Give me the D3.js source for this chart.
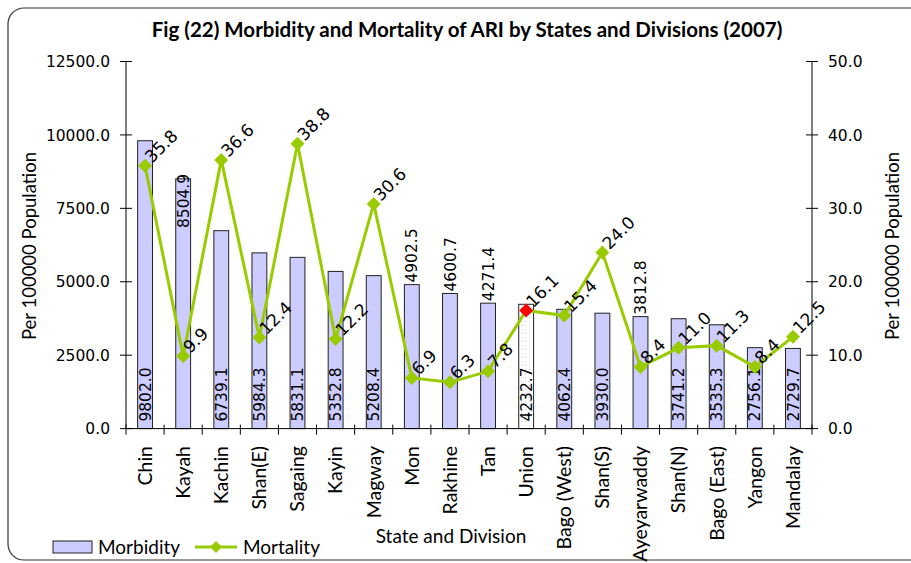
<!DOCTYPE html>
<html><head><meta charset="utf-8">
<script src="https://cdn.jsdelivr.net/npm/d3@7"></script>
<style>body{margin:0;background:#fff}svg{display:block}</style>
</head><body><svg id="c" width="911" height="563"></svg>
<script>
const categories = ["Chin","Kayah","Kachin","Shan(E)","Sagaing","Kayin","Magway","Mon","Rakhine","Tan","Union","Bago (West)","Shan(S)","Ayeyarwaddy","Shan(N)","Bago (East)","Yangon","Mandalay"];
const morbidity = [9802.0,8504.9,6739.1,5984.3,5831.1,5352.8,5208.4,4902.5,4600.7,4271.4,4232.7,4062.4,3930.0,3812.8,3741.2,3535.3,2756.1,2729.7];
const mortality = [35.8,9.9,36.6,12.4,38.8,12.2,30.6,6.9,6.3,7.8,16.1,15.4,24.0,8.4,11.0,11.3,8.4,12.5];
const barLabelPlace = ["base","in","base","base","base","base","base","out","out","out","base","base","base","out","base","base","base","base"];
const leftTicks = [0,2500,5000,7500,10000,12500];
const rightTicks = [0,10,20,30,40,50];
const highlight = "Union";

const svg = d3.select("#c");
const L = 126, R = 812, T = 61.5, B = 428.6;
const calibri = "Lato, 'Open Sans', sans-serif";
const tahoma = "'DejaVu Sans', Verdana, sans-serif";

// outer border
svg.append("rect").attr("x",8).attr("y",8).attr("width",940).attr("height",552)
  .attr("rx",16).attr("fill","none").attr("stroke","#333").attr("stroke-width",1.2);

const defs = svg.append("defs");
const pat = defs.append("pattern").attr("id","dots").attr("width",4).attr("height",4).attr("patternUnits","userSpaceOnUse");
pat.append("rect").attr("width",4).attr("height",4).attr("fill","#fff");
pat.append("rect").attr("x",1).attr("y",1).attr("width",1).attr("height",1).attr("fill","#CCCCFF");

const x = d3.scaleBand().domain(categories).range([L,R]).paddingInner(0.61).paddingOuter(0.305);
const xb = d3.scaleBand().domain(categories).range([L,R]);
const yL = d3.scaleLinear().domain([0,12500]).range([B,T]);
const yR = d3.scaleLinear().domain([0,50]).range([B,T]);

// title
svg.append("text").attr("x",467).attr("y",37).attr("text-anchor","middle")
  .attr("font-family",calibri).attr("font-weight","bold").attr("font-size",20.5)
  .text("Fig (22) Morbidity and Mortality of ARI by States and Divisions (2007)");

// bars
const data = categories.map((c,i)=>({c, m:morbidity[i], d:mortality[i], p:barLabelPlace[i]}));
svg.append("g").selectAll("rect").data(data).join("rect")
  .attr("x",d=>x(d.c)).attr("width",x.bandwidth())
  .attr("y",d=>yL(d.m)).attr("height",d=>B-yL(d.m))
  .attr("fill",d=>d.c===highlight?"url(#dots)":"#CCCCFF")
  .attr("stroke","#222").attr("stroke-width",1);

// axes
const gAx = svg.append("g").attr("stroke","#000").attr("stroke-width",1);
gAx.append("line").attr("x1",L).attr("x2",L).attr("y1",T).attr("y2",B);
gAx.append("line").attr("x1",R).attr("x2",R).attr("y1",T).attr("y2",B);
gAx.append("line").attr("x1",L).attr("x2",R).attr("y1",B).attr("y2",B);
leftTicks.forEach(t=>gAx.append("line").attr("x1",L-6).attr("x2",L+6).attr("y1",yL(t)).attr("y2",yL(t)));
rightTicks.forEach(t=>gAx.append("line").attr("x1",R-6).attr("x2",R+6).attr("y1",yR(t)).attr("y2",yR(t)));
categories.forEach(c=>gAx.append("line").attr("x1",xb(c)).attr("x2",xb(c)).attr("y1",B-4).attr("y2",B+6));
gAx.append("line").attr("x1",R).attr("x2",R).attr("y1",B-4).attr("y2",B+6);

svg.append("g").selectAll("text").data(leftTicks).join("text")
  .attr("x",L-16).attr("y",d=>yL(d)).attr("dy","0.36em").attr("text-anchor","end")
  .attr("font-family",tahoma).attr("font-size",15.5).text(d=>d.toFixed(1));
svg.append("g").selectAll("text").data(rightTicks).join("text")
  .attr("x",R+16).attr("y",d=>yR(d)).attr("dy","0.36em").attr("text-anchor","start")
  .attr("font-family",tahoma).attr("font-size",15.5).text(d=>d.toFixed(1));

// category labels
svg.append("g").selectAll("text").data(categories).join("text")
  .attr("transform",d=>`translate(${xb(d)+xb.bandwidth()/2},446) rotate(-90)`)
  .attr("dy","0.35em").attr("text-anchor","end")
  .attr("font-family",calibri).attr("font-size",19.5).text(d=>d);

// axis titles
svg.append("text").attr("x",451).attr("y",543).attr("text-anchor","middle")
  .attr("font-family",calibri).attr("font-size",19).text("State and Division");
svg.append("text").attr("transform","translate(30,246) rotate(-90)").attr("dy","0.35em").attr("text-anchor","middle")
  .attr("font-family",calibri).attr("font-size",18.5).text("Per 100000 Population");
svg.append("text").attr("transform","translate(893,246) rotate(-90)").attr("dy","0.35em").attr("text-anchor","middle")
  .attr("font-family",calibri).attr("font-size",18.5).text("Per 100000 Population");

// bar labels
svg.append("g").selectAll("text").data(data).join("text")
  .attr("transform",d=>{
    const cx = x(d.c)+x.bandwidth()/2;
    let yy = d.p==="base" ? B-7 : d.p==="out" ? yL(d.m)-2 : yL(d.m)-5;
    return `translate(${cx},${yy}) rotate(-90)`;})
  .attr("dy","0.36em").attr("text-anchor",d=>d.p==="in"?"end":"start")
  .attr("font-family",tahoma).attr("font-size",15.5).text(d=>d.m.toFixed(1));

// line
const cxp = d=>xb(d.c)+xb.bandwidth()/2;
svg.append("path").datum(data)
  .attr("d",d3.line().x(cxp).y(d=>yR(d.d)))
  .attr("fill","none").attr("stroke","#99CC00").attr("stroke-width",3);
svg.append("g").selectAll("path").data(data).join("path")
  .attr("d",d3.symbol().type(d3.symbolSquare).size(98))
  .attr("transform",d=>`translate(${cxp(d)},${yR(d.d)}) rotate(45)`)
  .attr("fill",d=>d.c===highlight?"#FF0000":"#99CC00");
svg.append("g").selectAll("text").data(data).join("text")
  .attr("transform",d=>`translate(${cxp(d)+7},${yR(d.d)-2}) rotate(-45)`)
  .attr("font-family",tahoma).attr("font-size",17).text(d=>d.d.toFixed(1));

// legend
const lg = svg.append("g");
lg.append("rect").attr("x",53).attr("y",541).attr("width",39).attr("height",12)
  .attr("fill","#CCCCFF").attr("stroke","#222");
lg.append("text").attr("x",98).attr("y",554).attr("font-family",calibri).attr("font-size",19).text("Morbidity");
lg.append("line").attr("x1",195).attr("x2",237).attr("y1",547).attr("y2",547).attr("stroke","#99CC00").attr("stroke-width",3);
lg.append("path").attr("d",d3.symbol().type(d3.symbolSquare).size(70)()).attr("transform","translate(216,547) rotate(45)").attr("fill","#99CC00");
lg.append("text").attr("x",243).attr("y",554).attr("font-family",calibri).attr("font-size",19).text("Mortality");
</script></body></html>
